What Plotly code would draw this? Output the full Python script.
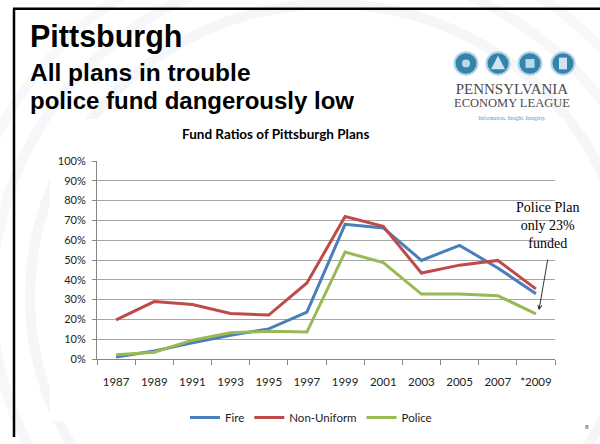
import plotly.graph_objects as go

years = ["1987", "1989", "1991", "1993", "1995", "1997", "1999", "2001", "2003", "2005", "2007", "*2009"]
fire = [0.01, 0.04, 0.082, 0.12, 0.152, 0.237, 0.68, 0.662, 0.498, 0.574, 0.46, 0.33]
non_uniform = [0.198, 0.29, 0.275, 0.23, 0.222, 0.384, 0.72, 0.67, 0.434, 0.474, 0.498, 0.354]
police = [0.022, 0.034, 0.095, 0.132, 0.14, 0.136, 0.54, 0.487, 0.328, 0.328, 0.32, 0.228]

series = [("Fire", fire, "#4a7ebb"), ("Non-Uniform", non_uniform, "#be4b48"), ("Police", police, "#98b954")]

W, H = 600, 444
ML, MR, MT, MB = 97, 45, 161, 80
PW, PH = W - ML - MR, H - MT - MB


def px(x):
    return (x - ML) / PW


def py(y):
    return (H - MB - y) / PH


fig = go.Figure()
for name, vals, col in series:
    fig.add_trace(go.Scatter(x=years, y=vals, name=name, mode="lines",
                             line=dict(color=col, width=3)))

shapes = []
# faint background swirls
for r, c in [(300, "#f5f6f8"), (338, "#f6f7f9"), (372, "#f7f8fa")]:
    shapes.append(dict(type="circle", xref="paper", yref="paper",
                       x0=px(330 - r), x1=px(330 + r), y0=py(300 + r), y1=py(300 - r),
                       line=dict(color=c, width=10), layer="below"))
# chart area white box
shapes.append(dict(type="rect", xref="paper", yref="paper",
                   x0=px(50), x1=px(566), y0=py(428), y1=py(118),
                   fillcolor="white", line=dict(width=0), layer="below"))
# slide frame
shapes.append(dict(type="line", xref="paper", yref="paper", x0=px(13), x1=px(600), y0=py(5), y1=py(5),
                   line=dict(color="black", width=2.5)))
shapes.append(dict(type="line", xref="paper", yref="paper", x0=px(14), x1=px(14), y0=py(5), y1=py(444),
                   line=dict(color="black", width=2.5)))
# logo circles
for cx in [466, 498, 530, 563]:
    r = 11.5
    shapes.append(dict(type="circle", xref="paper", yref="paper",
                       x0=px(cx - r), x1=px(cx + r), y0=py(61 + r), y1=py(61 - r),
                       fillcolor="#3583ab", line=dict(color="#b3d3e4", width=2)))
# logo icons
shapes.append(dict(type="circle", xref="paper", yref="paper", x0=px(462), x1=px(470), y0=py(65), y1=py(57),
                   fillcolor="#bcd9e8", line=dict(width=0)))
shapes.append(dict(type="path", xref="paper", yref="paper",
                   path=f"M {px(491)},{py(67)} L {px(498)},{py(53)} L {px(505)},{py(67)} Z",
                   fillcolor="#cfe5f0", line=dict(width=0)))
shapes.append(dict(type="rect", xref="paper", yref="paper", x0=px(525), x1=px(535), y0=py(66), y1=py(56),
                   fillcolor="#bcd9e8", line=dict(color="#3583ab", width=1)))
shapes.append(dict(type="rect", xref="paper", yref="paper", x0=px(559), x1=px(567), y0=py(67), y1=py(55),
                   fillcolor="#cfe5f0", line=dict(width=0)))

ann = []
ann.append(dict(text="<b>Pittsburgh</b>", x=px(28), y=py(33), xanchor="left", yanchor="middle",
                font=dict(family="Liberation Sans", size=30.5, color="black")))
ann.append(dict(text="<b>All plans in trouble</b>", x=px(28), y=py(70), xanchor="left", yanchor="middle",
                font=dict(family="Liberation Sans", size=24.5, color="black")))
ann.append(dict(text="<b>police fund dangerously low</b>", x=px(28), y=py(99), xanchor="left", yanchor="middle",
                font=dict(family="Liberation Sans", size=24, color="black")))
ann.append(dict(text="<b>Fund Ratios of Pittsburgh Plans</b>", x=px(275), y=py(133), xanchor="center",
                yanchor="middle", font=dict(family="Lato", size=13.5, color="black")))
ann.append(dict(text="<span style='font-size:15px'>PENNSYLVANIA</span><br>"
                     "<span style='font-size:12.5px'>ECONOMY LEAGUE</span><br>"
                     "<span style='font-size:5.5px;color:#4a9bc0'>Information, Insight, Integrity.</span>",
                x=px(512), y=py(99), xanchor="center", yanchor="middle", align="center",
                font=dict(family="Liberation Serif", size=10, color="#4a4a4a")))
ann.append(dict(text="Police Plan<br>only 23%<br>funded", x=px(547), y=py(227), xanchor="center",
                yanchor="middle", align="center",
                font=dict(family="Liberation Serif", size=14, color="black")))
ann.append(dict(text="", x=11.08, y=0.247, xref="x", yref="y", showarrow=True, ax=9, ay=-52,
                arrowhead=5, arrowsize=1, arrowwidth=0.8, arrowcolor="black", standoff=0))
ann.append(dict(text="8", x=px(587), y=py(434), xanchor="center", yanchor="middle",
                font=dict(family="Liberation Serif", size=7, color="#333")))
for a in ann:
    a.setdefault("xref", "paper")
    a.setdefault("yref", "paper")
    a.setdefault("showarrow", False)

fig.update_layout(
    width=W, height=H,
    margin=dict(l=ML, r=MR, t=MT, b=MB),
    paper_bgcolor="white", plot_bgcolor="rgba(0,0,0,0)",
    showlegend=True,
    legend=dict(orientation="h", x=px(311), xanchor="center", y=py(424), yanchor="middle",
                font=dict(family="Lato", size=11.5, color="#222"), bgcolor="rgba(0,0,0,0)",
                itemwidth=30),
    shapes=shapes, annotations=ann,
    xaxis=dict(type="category", range=[-0.5, len(years) - 0.5], tickson="boundaries", ticks="outside",
               ticklen=5, tickcolor="#868686", tickangle=0,
               showline=True, linecolor="#868686", linewidth=1, showgrid=False,
               tickfont=dict(family="Lato", size=11.5, color="#222"), ticklabelstandoff=12,
               fixedrange=True),
    yaxis=dict(range=[0, 1], dtick=0.1, tickformat=".0%", ticks="outside", ticklen=4, tickcolor="#868686",
               showline=True, linecolor="#868686", linewidth=1, gridcolor="#a6a6a6", gridwidth=1,
               zeroline=False, tickfont=dict(family="Lato", size=11, color="#222"),
               ticklabelstandoff=4, fixedrange=True),
)

fig.write_html("out.html", config={"displayModeBar": False},
               post_script="document.body.style.margin='0';")
